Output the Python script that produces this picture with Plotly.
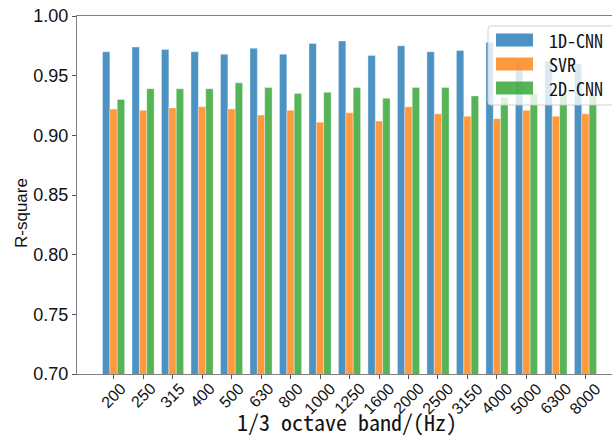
import plotly.graph_objects as go

bands = ["200", "250", "315", "400", "500", "630", "800", "1000", "1250",
         "1600", "2000", "2500", "3150", "4000", "5000", "6300", "8000"]
cnn1d = [0.970, 0.974, 0.972, 0.970, 0.968, 0.973, 0.968, 0.977, 0.979,
         0.967, 0.975, 0.970, 0.971, 0.978, 0.962, 0.962, 0.960]
svr = [0.922, 0.921, 0.923, 0.924, 0.922, 0.917, 0.921, 0.911, 0.919,
       0.912, 0.924, 0.918, 0.916, 0.914, 0.921, 0.916, 0.918]
cnn2d = [0.930, 0.939, 0.939, 0.939, 0.944, 0.940, 0.935, 0.936, 0.940,
         0.931, 0.940, 0.940, 0.933, 0.932, 0.935, 0.935, 0.934]
series_names = ["1D-CNN", "SVR", "2D-CNN"]
colors = ["rgba(31,119,180,0.8)", "rgba(255,127,14,0.8)", "rgba(44,160,44,0.8)"]
y_ticks = [0.70, 0.75, 0.80, 0.85, 0.90, 0.95, 1.00]

W, H = 612, 439
L, R, T, B = 77, 0, 16, 65
pw, ph = W - L - R, H - T - B


def px(x):
    return (x - L) / pw


def py(y):
    return (H - B - y) / ph


fig = go.Figure()
for name, vals, c in zip(series_names, [cnn1d, svr, cnn2d], colors):
    fig.add_trace(go.Bar(x=bands, y=vals, name=name, marker_color=c,
                         marker_line_width=0.6,
                         marker_line_color="rgba(255,255,255,0.6)",
                         showlegend=False))

mono = "Noto Sans Mono CJK SC, Liberation Mono"
sans = "Liberation Sans"
annotations = []
# x tick labels rotated 45 deg, centered on ticks (category index positions)
for i, b in enumerate(bands):
    annotations.append(dict(x=i, xref="x", y=py(377), yref="paper",
                            text=b, textangle=-45, showarrow=False,
                            xanchor="center", yanchor="top",
                            font=dict(family=sans, size=16, color="#111")))
annotations.append(dict(x=px(347), y=py(421), xref="paper", yref="paper",
                        text="1/3 octave band/(Hz)", showarrow=False,
                        xanchor="center", yanchor="middle",
                        font=dict(family=mono, size=22, color="#111")))
annotations.append(dict(x=px(21), y=py(213), xref="paper", yref="paper",
                        text="R-square", textangle=-90, showarrow=False,
                        xanchor="center", yanchor="middle",
                        font=dict(family=sans, size=17, color="#111")))

# manual legend (matplotlib style, semi-transparent frame)
x0l, x1l, y0l, y1l, rr = 488, 616, 26, 105, 3
legend_path = (f"M {px(x0l + rr)},{py(y0l)} L {px(x1l - rr)},{py(y0l)} "
               f"Q {px(x1l)},{py(y0l)} {px(x1l)},{py(y0l + rr)} "
               f"L {px(x1l)},{py(y1l - rr)} Q {px(x1l)},{py(y1l)} {px(x1l - rr)},{py(y1l)} "
               f"L {px(x0l + rr)},{py(y1l)} Q {px(x0l)},{py(y1l)} {px(x0l)},{py(y1l - rr)} "
               f"L {px(x0l)},{py(y0l + rr)} Q {px(x0l)},{py(y0l)} {px(x0l + rr)},{py(y0l)} Z")
shapes = [dict(type="path", xref="paper", yref="paper", path=legend_path,
               fillcolor="rgba(255,255,255,0.8)",
               line=dict(color="rgba(204,204,204,0.9)", width=1), layer="above")]
leg_y = [40, 64, 88]
for name, c, yc in zip(series_names, colors, leg_y):
    shapes.append(dict(type="rect", xref="paper", yref="paper",
                       x0=px(496), x1=px(533), y0=py(yc + 6.5), y1=py(yc - 6.5),
                       fillcolor=c, line=dict(width=0), layer="above"))
    annotations.append(dict(x=px(547), y=py(yc), xref="paper", yref="paper",
                            text=name, showarrow=False, xanchor="left",
                            yanchor="middle",
                            font=dict(family=mono, size=18, color="#111")))

fig.update_layout(
    width=W, height=H,
    margin=dict(l=L, r=R, t=T, b=B, pad=0),
    paper_bgcolor="white", plot_bgcolor="white",
    barmode="group", bargap=0.25, bargroupgap=0,
    showlegend=False,
    annotations=annotations, shapes=shapes,
    xaxis=dict(type="category", range=[-1.24, 16.9], showgrid=False,
               showline=True, linecolor="#808080", linewidth=1, mirror=True,
               ticks="outside", ticklen=4, tickcolor="#555",
               showticklabels=False, zeroline=False),
    yaxis=dict(range=[0.70, 1.00], tickvals=y_ticks, tickformat=".2f",
               showgrid=False, showline=True, linecolor="#808080", linewidth=1,
               ticks="outside", ticklen=4, tickcolor="#555",
               tickfont=dict(family=sans, size=18, color="#111"),
               zeroline=False),
)

fig.write_html("out.html", config={"displayModeBar": False},
               post_script="document.body.style.margin='0';document.body.style.overflow='hidden';")
